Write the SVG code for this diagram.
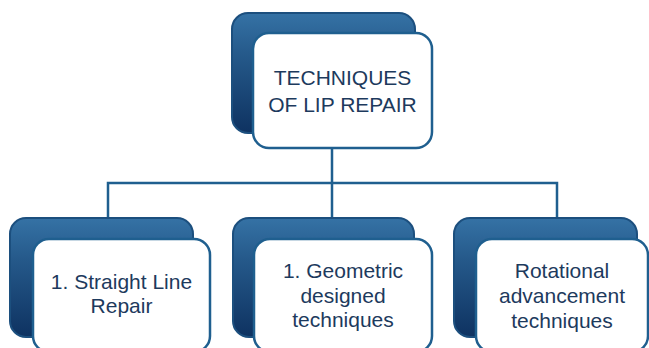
<svg xmlns="http://www.w3.org/2000/svg" width="649" height="348" viewBox="0 0 649 348">
<defs>
<linearGradient id="dg" x1="0" y1="0" x2="0" y2="1">
<stop offset="0" stop-color="#3572a5"/>
<stop offset="0.35" stop-color="#25598a"/>
<stop offset="1" stop-color="#0e3261"/>
</linearGradient>
<style>
.back{fill:url(#dg);stroke:#1c4f7e;stroke-width:2}
.front{fill:#ffffff;stroke:#1f5f8f;stroke-width:2.5}
.lbl{font-family:"Liberation Sans",Arial,sans-serif;font-size:21px;fill:#1d3a5d;text-anchor:middle}
.conn{fill:none;stroke:#1f5f8f;stroke-width:2.5}
</style>
</defs>
<rect width="649" height="348" fill="#ffffff"/>
<g id="connectors">
<path class="conn" d="M332 148 V183 M108 218 V183 H557 V218 M332 183 V218"/>
</g>
<g id="node-top">
<rect class="back" x="232" y="13" width="183" height="120" rx="16"/>
<rect class="front" x="253" y="33" width="179" height="115" rx="16"/>
<text class="lbl" x="342.5" y="85">TECHNIQUES</text>
<text class="lbl" x="342.5" y="112">OF LIP REPAIR</text>
</g>
<g id="node-left">
<rect class="back" x="10" y="218" width="183" height="119" rx="16"/>
<rect class="front" x="33" y="239" width="177" height="113" rx="16"/>
<text class="lbl" x="121.5" y="289">1. Straight Line</text>
<text class="lbl" x="121.5" y="313">Repair</text>
</g>
<g id="node-middle">
<rect class="back" x="233" y="218" width="181" height="119" rx="16"/>
<rect class="front" x="254" y="239" width="178" height="113" rx="16"/>
<text class="lbl" x="343" y="278">1. Geometric</text>
<text class="lbl" x="343" y="303">designed</text>
<text class="lbl" x="343" y="327">techniques</text>
</g>
<g id="node-right">
<rect class="back" x="454" y="218" width="183" height="119" rx="16"/>
<rect class="front" x="476" y="239" width="172" height="113" rx="16"/>
<text class="lbl" x="562" y="278">Rotational</text>
<text class="lbl" x="562" y="303">advancement</text>
<text class="lbl" x="562" y="328">techniques</text>
</g>
</svg>
